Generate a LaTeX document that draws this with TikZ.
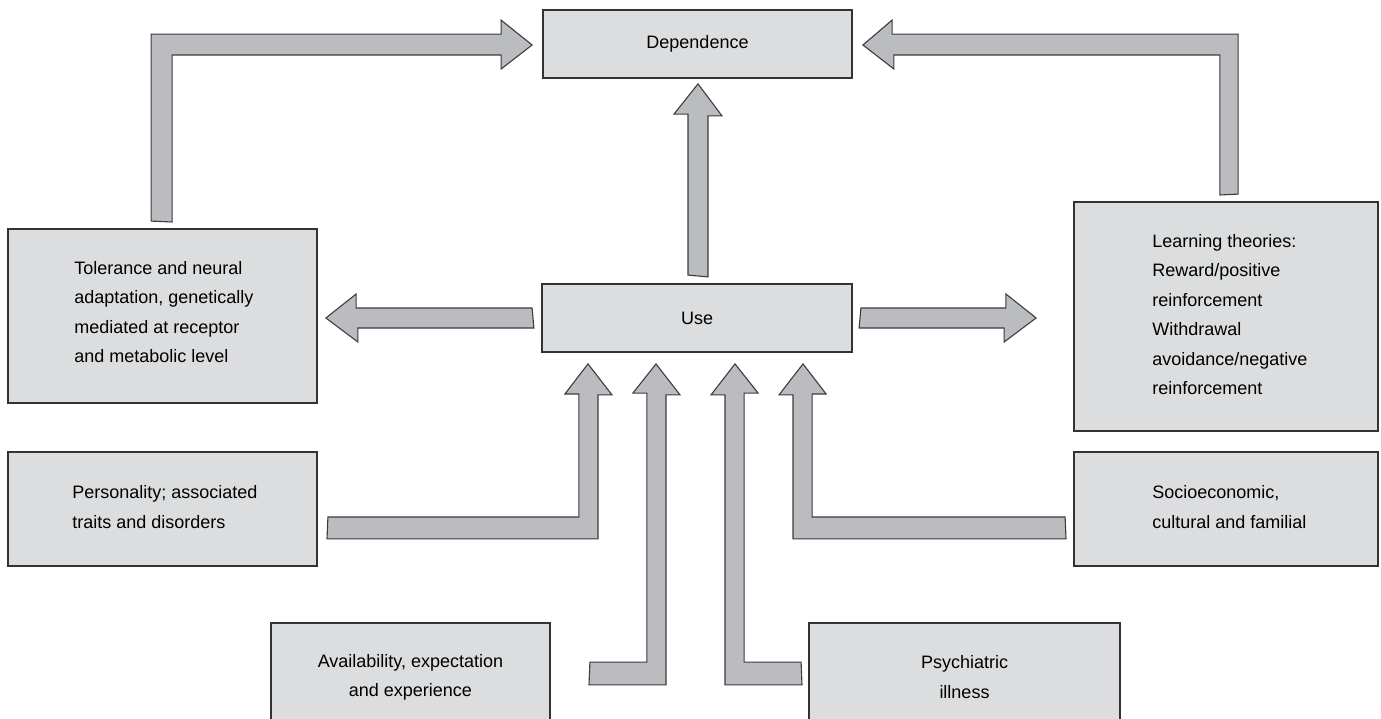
\documentclass[tikz,border=0pt]{standalone}
\usepackage{fontspec}
\setmainfont{Liberation Sans}
\usetikzlibrary{calc}
\definecolor{boxfill}{HTML}{DCDDDF}
\definecolor{arrfill}{HTML}{BBBCC0}
\definecolor{boxline}{HTML}{333333}
\definecolor{arrline}{HTML}{3C3C3C}
\tikzset{
  box/.style={draw=boxline, line width=1.8pt, fill=boxfill, inner sep=0pt,
    font=\fontsize{18}{29.5}\selectfont},
  blockarrow/.style={draw=arrline, line width=1.1pt, fill=arrfill, line join=miter},
  txt/.style={inner sep=0pt, font=\fontsize{18}{29.5}\selectfont},
}
\begin{document}
\begin{tikzpicture}[x=1pt,y=-1pt]
\useasboundingbox (0,0) rectangle (1381,719);
\clip (0,0) rectangle (1381,719);

% boxes
\node[box, minimum width=309pt, minimum height=68pt] (dep) at (697.5,44) {Dependence};
\node[box, minimum width=310pt, minimum height=68pt] (use) at (697,318) {Use};
\node[box, minimum width=309pt, minimum height=174pt] (tol) at (162.5,316) {};
\node[box, minimum width=304pt, minimum height=229pt] (learn) at (1226,316.5) {};
\node[box, minimum width=309pt, minimum height=114pt] (pers) at (162.5,509) {};
\node[box, minimum width=304pt, minimum height=114pt] (socio) at (1226,509) {};
\node[box, minimum width=279pt, minimum height=137pt] (avail) at (410.5,691.5) {};
\node[box, minimum width=311pt, minimum height=137pt] (psych) at (964.5,691.5) {};

% box texts
\node[txt, anchor=west, align=left] (toltxt) at ($(tol.west)+(67,-4)$)
  {Tolerance and neural\\adaptation, genetically\\mediated at receptor\\and metabolic level};
\node[txt, anchor=west, align=left] (learntxt) at ($(learn.west)+(79,-2)$)
  {Learning theories:\\Reward/positive\\reinforcement\\Withdrawal\\avoidance/negative\\reinforcement};
\node[txt, anchor=west, align=left] (perstxt) at ($(pers.west)+(65,-2)$)
  {Personality; associated\\traits and disorders};
\node[txt, anchor=west, align=left] (sociotxt) at ($(socio.west)+(79,-2)$)
  {Socioeconomic,\\cultural and familial};
\node[txt, align=center] (availtxt) at ($(avail.north)+(0,55)$)
  {Availability, expectation\\and experience};
\node[txt, align=center] (psychtxt) at ($(psych.north)+(0,55)$)
  {Psychiatric\\illness};

% Use -> Dependence
\draw[blockarrow] ($(use.north)+(-9,-8)$) -- ++(0,-161) -- ++(-14,0)
  -- ($(dep.south)+(0.5,5)$) -- ++(24,32) -- ++(-14,0) -- ++(0,161) -- cycle;
% Use -> Tolerance
\draw[blockarrow] ($(use.west)+(-9,-10)$) -- ++(-176,0) -- ++(0,-14)
  -- ($(tol.east)+(8,2)$) -- ++(32,24) -- ++(0,-14) -- ++(176,0) -- cycle;
% Use -> Learning theories
\draw[blockarrow] ($(use.east)+(8,-10)$) -- ++(145,0) -- ++(0,-14)
  -- ($(learn.west)+(-37,1.5)$) -- ++(-32,24) -- ++(0,-14) -- ++(-145,0) -- cycle;
% Tolerance -> Dependence
\draw[blockarrow] ($(tol.north west)+(144,-7)$) -- ++(0,-187) -- ++(350,0) -- ++(0,-14)
  -- ($(dep.west)+(-10,1)$) -- ++(-31,24) -- ++(0,-14) -- ++(-329,0) -- ++(0,167) -- cycle;
% Learning theories -> Dependence
\draw[blockarrow] ($(learn.north west)+(165,-7)$) -- ++(0,-160) -- ++(-346,0) -- ++(0,-14)
  -- ($(dep.east)+(10,1)$) -- ++(31,24) -- ++(0,-14) -- ++(326,0) -- ++(0,140) -- cycle;
% Personality -> Use
\draw[blockarrow] ($(pers.east)+(10,8)$) -- ++(251,0) -- ++(0,-123) -- ++(-14,0)
  -- ($(use.south)+(-109,11)$) -- ++(24,31) -- ++(-14,0) -- ++(0,144) -- ++(-271,0) -- cycle;
% Availability -> Use
\draw[blockarrow] ($(avail.north east)+(39,40)$) -- ++(57,0) -- ++(0,-269) -- ++(-14,0)
  -- ($(use.south)+(-41,11)$) -- ++(24,31) -- ++(-14,0) -- ++(0,290) -- ++(-77,0) -- cycle;
% Psychiatric illness -> Use
\draw[blockarrow] ($(psych.north west)+(-7,40)$) -- ++(-57,0) -- ++(0,-269) -- ++(14,0)
  -- ($(use.south)+(38,11)$) -- ++(-24,31) -- ++(14,0) -- ++(0,290) -- ++(77,0) -- cycle;
% Socioeconomic -> Use
\draw[blockarrow] ($(socio.west)+(-8,8)$) -- ++(-253,0) -- ++(0,-123) -- ++(14,0)
  -- ($(use.south)+(106,11)$) -- ++(-24,31) -- ++(14,0) -- ++(0,144) -- ++(273,0) -- cycle;
\end{tikzpicture}
\end{document}
